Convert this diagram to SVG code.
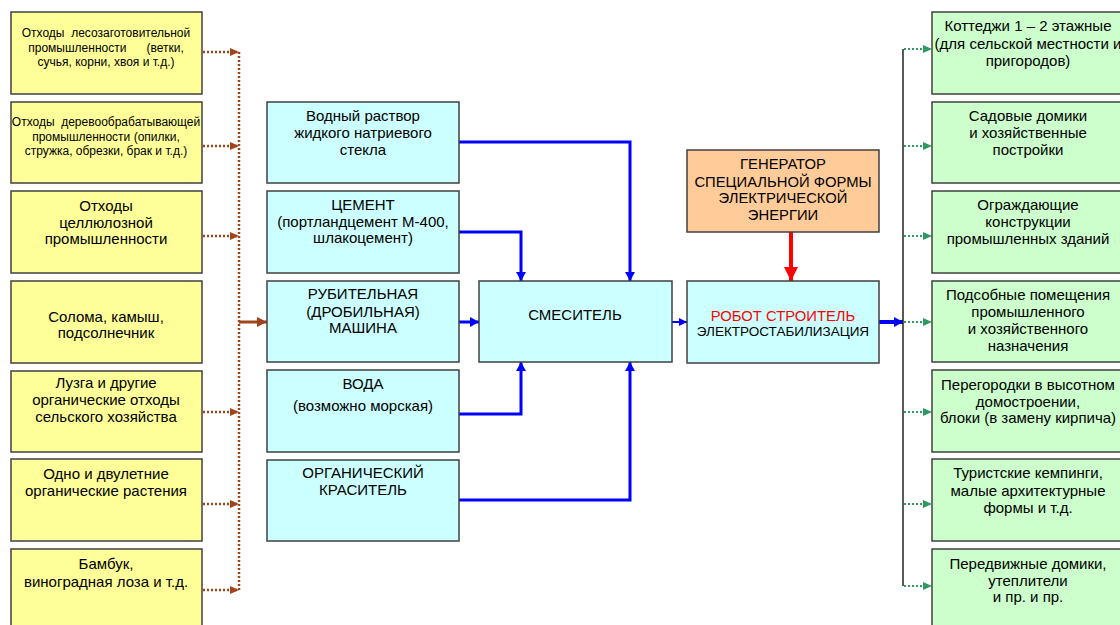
<svg xmlns="http://www.w3.org/2000/svg" width="1120" height="625" viewBox="0 0 1120 625">
<defs>
<style>
.t{font-family:"Liberation Sans",Arial,sans-serif;font-size:15px;fill:#000;text-anchor:middle;white-space:pre}
.s{font-size:12px}
.y{fill:#FFFF99;stroke:#404040;stroke-width:1.5}
.b{fill:#CCFFFF;stroke:#404040;stroke-width:1.5}
.g{fill:#CCFFCC;stroke:#404040;stroke-width:1.5}
.o{fill:#FFCC99;stroke:#404040;stroke-width:1.5}
.bl{fill:none;stroke:#0000FF;stroke-width:3}
.br{fill:none;stroke:#A0441C;stroke-width:2.5;stroke-dasharray:2 2}
.gr{fill:none;stroke:#2E9960;stroke-width:2;stroke-dasharray:2 2}
</style>
<marker id="mb" markerUnits="userSpaceOnUse" markerWidth="9" markerHeight="10" refX="9" refY="5" orient="auto"><path d="M0,0L9,5L0,10z" fill="#0000FF"/></marker>
<marker id="mbs" markerUnits="userSpaceOnUse" markerWidth="8" markerHeight="8" refX="8" refY="4" orient="auto"><path d="M0,0L8,4L0,8z" fill="#0000FF"/></marker>
<marker id="mbr" markerUnits="userSpaceOnUse" markerWidth="9" markerHeight="8" refX="9" refY="4" orient="auto"><path d="M0,0L9,4L0,8z" fill="#A0441C"/></marker>
<marker id="mbr2" markerUnits="userSpaceOnUse" markerWidth="10" markerHeight="10" refX="10" refY="5" orient="auto"><path d="M0,0L10,5L0,10z" fill="#A0441C"/></marker>
<marker id="mg" markerUnits="userSpaceOnUse" markerWidth="9" markerHeight="8" refX="9" refY="4" orient="auto"><path d="M0,0L9,4L0,8z" fill="#2E9960"/></marker>
<marker id="mr" markerUnits="userSpaceOnUse" markerWidth="14" markerHeight="14" refX="14" refY="7" orient="auto"><path d="M0,0L14,7L0,14z" fill="#FF0000"/></marker>
</defs>
<rect width="1120" height="625" fill="#FFFFFF"/>

<g id="connectors">
<path class="br" d="M239,52V590"/>
<path class="br" d="M203,52H239" marker-end="url(#mbr)"/>
<path class="br" d="M203,146H239" marker-end="url(#mbr)"/>
<path class="br" d="M203,236H239" marker-end="url(#mbr)"/>
<path class="br" d="M203,412H239" marker-end="url(#mbr)"/>
<path class="br" d="M203,504H239" marker-end="url(#mbr)"/>
<path class="br" d="M203,590H239" marker-end="url(#mbr)"/>
<path d="M239,322H267" fill="none" stroke="#A0441C" stroke-width="3" marker-end="url(#mbr2)"/>
<path class="bl" d="M459,142H630V281" marker-end="url(#mb)"/>
<path class="bl" d="M459,232H521V281" marker-end="url(#mb)"/>
<path class="bl" d="M459,322H479" marker-end="url(#mb)"/>
<path class="bl" d="M459,414H521V362" marker-end="url(#mb)"/>
<path class="bl" d="M459,500H630V362" marker-end="url(#mb)"/>
<path d="M672,322H687" fill="none" stroke="#0000FF" stroke-width="2" marker-end="url(#mbs)"/>
<path d="M791,232V281" fill="none" stroke="#FF0000" stroke-width="4" marker-end="url(#mr)"/>
<path d="M879,322H903" fill="none" stroke="#0000FF" stroke-width="4" marker-end="url(#mb)"/>
<path d="M903,49V586" fill="none" stroke="#222" stroke-width="1.5"/>
<path class="gr" d="M904,49H932" marker-end="url(#mg)"/>
<path class="gr" d="M904,146H932" marker-end="url(#mg)"/>
<path class="gr" d="M904,236H932" marker-end="url(#mg)"/>
<path class="gr" d="M904,322H932" marker-end="url(#mg)"/>
<path class="gr" d="M904,412H932" marker-end="url(#mg)"/>
<path class="gr" d="M904,504H932" marker-end="url(#mg)"/>
<path class="gr" d="M904,586H932" marker-end="url(#mg)"/>
</g>

<g id="src1"><rect class="y" x="11" y="12" width="191" height="82"/>
<text class="t s" x="106" y="37">Отходы  лесозаготовительной</text>
<text class="t s" x="106" y="52">промышленности      (ветки,</text>
<text class="t s" x="106" y="66">сучья, корни, хвоя и т.д.)</text></g>
<g id="src2"><rect class="y" x="11" y="102" width="191" height="81"/>
<text class="t s" x="106" y="126">Отходы  деревообрабатывающей</text>
<text class="t s" x="106" y="141">промышленности (опилки,</text>
<text class="t s" x="106" y="155">стружка, обрезки, брак и т.д.)</text></g>
<g id="src3"><rect class="y" x="11" y="191" width="191" height="82"/>
<text class="t" x="106" y="211">Отходы</text>
<text class="t" x="106" y="228">целлюлозной</text>
<text class="t" x="106" y="244">промышленности</text></g>
<g id="src4"><rect class="y" x="11" y="281" width="191" height="82"/>
<text class="t" x="106" y="322">Солома, камыш,</text>
<text class="t" x="106" y="338">подсолнечник</text></g>
<g id="src5"><rect class="y" x="11" y="371" width="191" height="81"/>
<text class="t" x="106" y="388">Лузга и другие</text>
<text class="t" x="106" y="405">органические отходы</text>
<text class="t" x="106" y="422">сельского хозяйства</text></g>
<g id="src6"><rect class="y" x="11" y="459" width="191" height="82"/>
<text class="t" x="106" y="479">Одно и двулетние</text>
<text class="t" x="106" y="496">органические растения</text></g>
<g id="src7"><rect class="y" x="11" y="549" width="191" height="82"/>
<text class="t" x="106" y="569">Бамбук,</text>
<text class="t" x="106" y="587">виноградная лоза и т.д.</text></g>

<g id="glass"><rect class="b" x="267" y="102" width="192" height="81"/>
<text class="t" x="363" y="121">Водный раствор</text>
<text class="t" x="363" y="138">жидкого натриевого</text>
<text class="t" x="363" y="155">стекла</text></g>
<g id="cement"><rect class="b" x="267" y="191" width="192" height="82"/>
<text class="t" x="363" y="210">ЦЕМЕНТ</text>
<text class="t" x="363" y="227">(портландцемент М-400,</text>
<text class="t" x="363" y="243">шлакоцемент)</text></g>
<g id="crusher"><rect class="b" x="267" y="281" width="192" height="81"/>
<text class="t" x="363" y="299">РУБИТЕЛЬНАЯ</text>
<text class="t" x="363" y="317">(ДРОБИЛЬНАЯ)</text>
<text class="t" x="363" y="333">МАШИНА</text></g>
<g id="water"><rect class="b" x="267" y="370" width="192" height="82"/>
<text class="t" x="363" y="389">ВОДА</text>
<text class="t" x="363" y="411">(возможно морская)</text></g>
<g id="dye"><rect class="b" x="267" y="460" width="192" height="81"/>
<text class="t" x="363" y="478">ОРГАНИЧЕСКИЙ</text>
<text class="t" x="363" y="495">КРАСИТЕЛЬ</text></g>

<g id="mixer"><rect class="b" x="479" y="281" width="193" height="81"/>
<text class="t" x="575" y="320">СМЕСИТЕЛЬ</text></g>
<g id="generator"><rect class="o" x="687" y="150" width="192" height="82"/>
<text class="t" x="783" y="169" style="font-size:14.8px">ГЕНЕРАТОР</text>
<text class="t" x="783" y="187" style="font-size:14.8px">СПЕЦИАЛЬНОЙ ФОРМЫ</text>
<text class="t" x="783" y="203" style="font-size:14.8px">ЭЛЕКТРИЧЕСКОЙ</text>
<text class="t" x="783" y="220" style="font-size:14.8px">ЭНЕРГИИ</text></g>
<g id="robot"><rect class="b" x="687" y="281" width="192" height="82"/>
<text class="t" x="783" y="321" style="font-size:14.8px;fill:#FF0000">РОБОТ СТРОИТЕЛЬ</text>
<text class="t" x="783" y="336" style="font-size:13.5px">ЭЛЕКТРОСТАБИЛИЗАЦИЯ</text></g>

<g id="out1"><rect class="g" x="932" y="12" width="192" height="82"/>
<text class="t" x="1028" y="31">Коттеджи 1 – 2 этажные</text>
<text class="t" x="1028" y="49">(для сельской местности и</text>
<text class="t" x="1028" y="66">пригородов)</text></g>
<g id="out2"><rect class="g" x="932" y="102" width="192" height="81"/>
<text class="t" x="1028" y="121">Садовые домики</text>
<text class="t" x="1028" y="138">и хозяйственные</text>
<text class="t" x="1028" y="155">постройки</text></g>
<g id="out3"><rect class="g" x="932" y="191" width="192" height="82"/>
<text class="t" x="1028" y="210">Ограждающие</text>
<text class="t" x="1028" y="227">конструкции</text>
<text class="t" x="1028" y="244">промышленных зданий</text></g>
<g id="out4"><rect class="g" x="932" y="281" width="192" height="81"/>
<text class="t" x="1028" y="300">Подсобные помещения</text>
<text class="t" x="1028" y="317">промышленного</text>
<text class="t" x="1028" y="334">и хозяйственного</text>
<text class="t" x="1028" y="351">назначения</text></g>
<g id="out5"><rect class="g" x="932" y="370" width="192" height="82"/>
<text class="t" x="1028" y="390">Перегородки в высотном</text>
<text class="t" x="1028" y="407">домостроении,</text>
<text class="t" x="1028" y="423">блоки (в замену кирпича)</text></g>
<g id="out6"><rect class="g" x="932" y="459" width="192" height="82"/>
<text class="t" x="1028" y="478">Туристские кемпинги,</text>
<text class="t" x="1028" y="496">малые архитектурные</text>
<text class="t" x="1028" y="513">формы и т.д.</text></g>
<g id="out7"><rect class="g" x="932" y="549" width="192" height="82"/>
<text class="t" x="1028" y="569">Передвижные домики,</text>
<text class="t" x="1028" y="586">утеплители</text>
<text class="t" x="1028" y="602">и пр. и пр.</text></g>
</svg>
